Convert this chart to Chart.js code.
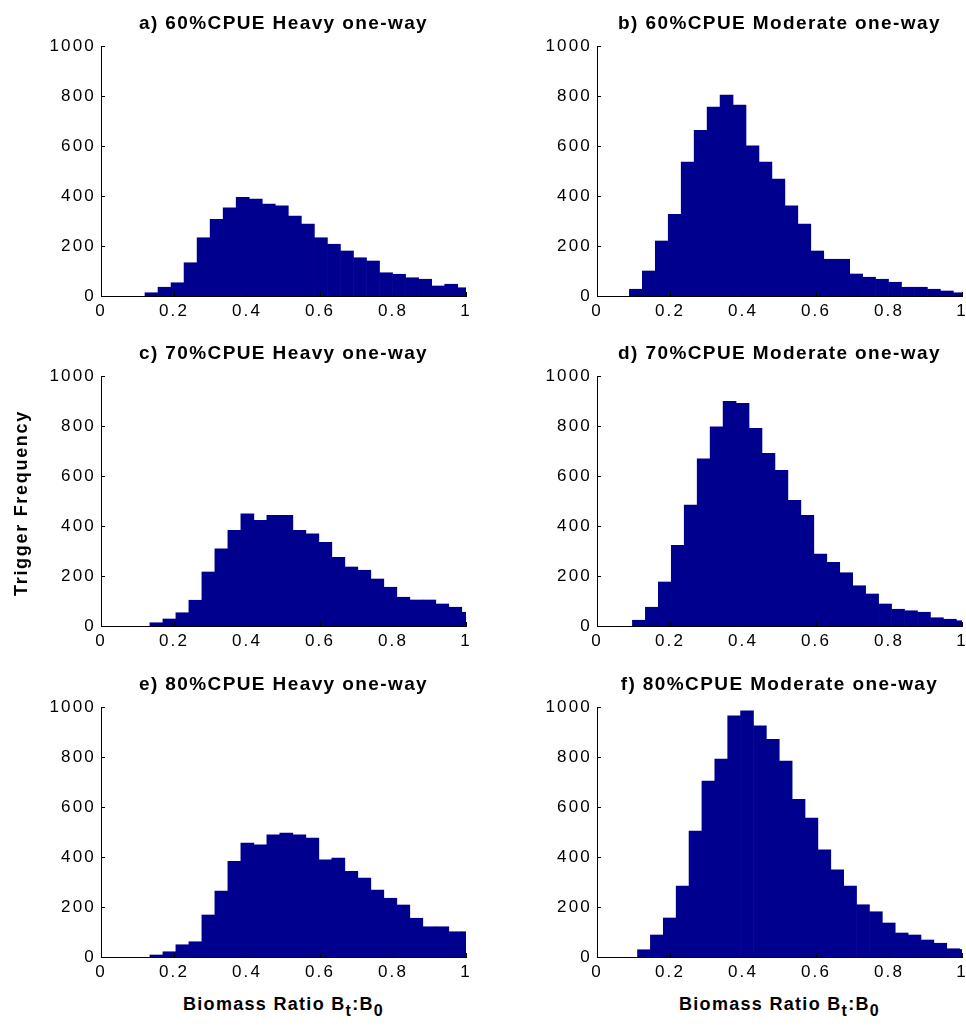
<!DOCTYPE html>
<html>
<head>
<meta charset="utf-8">
<script src="https://cdn.jsdelivr.net/npm/chart.js@4.4.0/dist/chart.umd.min.js"></script>
<style>
  html, body { margin: 0; padding: 0; background: #fff; overflow: hidden; }
  body { width: 966px; height: 1026px; position: relative; font-family: 'Liberation Sans', Arial, sans-serif; color: #000; }
  canvas { position: absolute; }
  .ttl { position: absolute; width: 365px; text-align: center; font-weight: bold; font-size: 19px; line-height: 23px; letter-spacing: 1.4px; white-space: nowrap; }
  .xlab { position: absolute; width: 365px; text-align: center; font-weight: bold; font-size: 18px; line-height: 22px; letter-spacing: 1.3px; white-space: nowrap; }
  .xlab sub { font-size: 16px; vertical-align: -6px; line-height: 0; }
  .ylab { position: absolute; width: 300px; text-align: center; font-weight: bold; font-size: 18px; line-height: 22px; letter-spacing: 1.7px; white-space: nowrap; transform: rotate(-90deg); }
</style>
</head>
<body>
<div id="wrap"></div>
<div class="ylab" style="left:-129px; top:492px;">Trigger Frequency</div>
<div class="xlab" style="left:101px; top:993px;">Biomass Ratio B<sub>t</sub>:B<sub>0</sub></div>
<div class="xlab" style="left:597px; top:993px;">Biomass Ratio B<sub>t</sub>:B<sub>0</sub></div>
<script>
// axis ticks
var xTicks = [0, 0.2, 0.4, 0.6, 0.8, 1];
var yTicks = [0, 200, 400, 600, 800, 1000];

var panelTitles = [
    'a) 60%CPUE Heavy one-way',
    'b) 60%CPUE Moderate one-way',
    'c) 70%CPUE Heavy one-way',
    'd) 70%CPUE Moderate one-way',
    'e) 80%CPUE Heavy one-way',
    'f) 80%CPUE Moderate one-way'
];

// histogram bins: left edge of first bin and bin width (Bt:B0), one per panel
var binStart = [0.1205, 0.0887, 0.134, 0.097, 0.134, 0.111];
var binWidth = [0.0357, 0.0355, 0.0356, 0.0355, 0.0356, 0.0353];

// trigger counts per bin
var countsA = [13, 35, 53, 133, 233, 307, 353, 395, 388, 368, 361, 320, 288, 233, 207, 180, 153, 140, 93, 87, 73, 67, 40, 47, 33];
var countsB = [27, 100, 220, 327, 536, 663, 756, 804, 764, 601, 536, 468, 361, 288, 180, 147, 147, 88, 75, 67, 55, 35, 35, 27, 20, 13];
var countsC = [13, 28, 53, 103, 216, 309, 383, 449, 423, 443, 443, 383, 369, 335, 275, 236, 223, 188, 155, 115, 104, 104, 88, 75, 55];
var countsD = [23, 75, 176, 323, 484, 669, 797, 899, 891, 791, 691, 623, 503, 443, 288, 255, 213, 161, 128, 88, 67, 61, 55, 33, 27, 21];
var countsE = [8, 21, 49, 61, 168, 264, 383, 456, 449, 489, 496, 489, 476, 389, 396, 343, 316, 268, 235, 208, 155, 121, 121, 101, 101];
var countsF = [29, 88, 156, 284, 504, 704, 792, 965, 985, 925, 871, 784, 631, 556, 429, 349, 284, 209, 181, 136, 96, 88, 68, 55, 33, 30];

var panelCounts = [countsA, countsB, countsC, countsD, countsE, countsF];

var FONT = "'Liberation Sans', Arial, sans-serif";
var BAR = '#00008f';

// small inward tick marks like matlab, plus wider letter spacing of the labels
var matlabAxes = {
    id: 'matlabAxes',
    beforeLayout: function(chart) { chart.ctx.letterSpacing = '2.2px'; },
    beforeDraw: function(chart) { chart.ctx.letterSpacing = '2.2px'; },
    afterDraw: function(chart) {
        var ctx = chart.ctx, a = chart.chartArea;
        var xs = chart.scales.x, ys = chart.scales.y;
        ctx.save();
        ctx.strokeStyle = '#000';
        ctx.lineWidth = 1;
        ctx.beginPath();
        xTicks.forEach(function(v) {
            var px = Math.round(xs.getPixelForValue(v)) + 0.5;
            ctx.moveTo(px, a.bottom);
            ctx.lineTo(px, a.bottom - 4);
        });
        yTicks.forEach(function(v) {
            var py = Math.round(ys.getPixelForValue(v)) + 0.5;
            ctx.moveTo(a.left, py);
            ctx.lineTo(a.left + 4, py);
        });
        ctx.stroke();
        ctx.restore();
    }
};

function histPoints(k) {
    return panelCounts[k].map(function(c, i) {
        return { x: binStart[k] + (i + 0.5) * binWidth[k], y: c };
    });
}

var colLeft = [0, 496];
var rowTop = [0, 330, 661];

function makePanel(k) {
    var px = colLeft[k % 2];
    var py = rowTop[Math.floor(k / 2)];

    var t = document.createElement('div');
    t.className = 'ttl';
    t.style.left = (px + 101) + 'px';
    t.style.top = (py + 10.5) + 'px';
    t.textContent = panelTitles[k];
    document.body.appendChild(t);

    var cv = document.createElement('canvas');
    cv.width = 480;
    cv.height = 330;
    cv.style.left = px + 'px';
    cv.style.top = py + 'px';
    document.getElementById('wrap').appendChild(cv);

    new Chart(cv, {
        type: 'bar',
        data: {
            datasets: [{
                data: histPoints(k),
                backgroundColor: BAR,
                borderWidth: 0,
                categoryPercentage: 1,
                barPercentage: 1,
                clip: 0
            }]
        },
        options: {
            responsive: false,
            animation: false,
            devicePixelRatio: 1,
            layout: { padding: { top: 46, right: 14, left: 0, bottom: 0 } },
            plugins: {
                legend: { display: false },
                tooltip: { enabled: false },
                title: { display: false }
            },
            scales: {
                x: {
                    type: 'linear',
                    min: 0,
                    max: 1,
                    offset: false,
                    grid: { display: false, drawTicks: false },
                    border: { display: true, color: '#000', width: 1 },
                    afterBuildTicks: function(s) { s.ticks = xTicks.map(function(v) { return { value: v }; }); },
                    afterFit: function(s) { s.height = 34; },
                    ticks: {
                        color: '#000',
                        font: { family: FONT, size: 17 },
                        padding: 5,
                        maxRotation: 0,
                        autoSkip: false,
                        callback: function(v) { return String(v); }
                    }
                },
                y: {
                    min: 0,
                    max: 1000,
                    grid: { display: false, drawTicks: false },
                    border: { display: true, color: '#000', width: 1 },
                    afterBuildTicks: function(s) { s.ticks = yTicks.map(function(v) { return { value: v }; }); },
                    afterFit: function(s) { s.width = 101; },
                    ticks: {
                        color: '#000',
                        font: { family: FONT, size: 17 },
                        padding: 5,
                        autoSkip: false,
                        callback: function(v) { return String(v); }
                    }
                }
            }
        },
        plugins: [matlabAxes]
    });
}

for (var k = 0; k < 6; k++) {
    makePanel(k);
}
</script>
</body>
</html>
